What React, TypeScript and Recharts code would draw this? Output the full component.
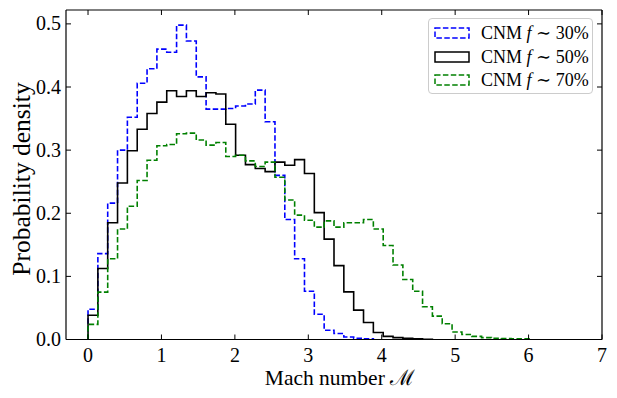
import React from "react";
import { LineChart, Line, XAxis, YAxis, Legend } from "recharts";

// histogram bin width (Mach number units), bins start at 0
const binWidth = 0.134;

const xTicks = [0, 1, 2, 3, 4, 5, 6, 7];
const yTicks = [0, 0.1, 0.2, 0.3, 0.4, 0.5];

const cnm30 = [
  0.048, 0.136, 0.216, 0.3, 0.352, 0.406, 0.429, 0.46, 0.455, 0.498, 0.473,
  0.416, 0.365, 0.365, 0.366, 0.37, 0.373, 0.395, 0.345, 0.26, 0.19, 0.128,
  0.0765, 0.04, 0.0147, 0.0095, 0.004, 0.002, 0.001,
];

const cnm50 = [
  0.0385, 0.1125, 0.185, 0.248, 0.299, 0.333, 0.358, 0.376, 0.394, 0.385,
  0.394, 0.385, 0.391, 0.389, 0.341, 0.292, 0.277, 0.271, 0.266, 0.281, 0.276,
  0.285, 0.263, 0.201, 0.159, 0.117, 0.0755, 0.0465, 0.027, 0.011, 0.005,
  0.003, 0.002, 0.001, 0.0005,
];

const cnm70 = [
  0.024, 0.075, 0.128, 0.175, 0.211, 0.252, 0.284, 0.307, 0.309, 0.326, 0.327,
  0.316, 0.308, 0.312, 0.29, 0.292, 0.283, 0.274, 0.281, 0.257, 0.221, 0.197,
  0.189, 0.178, 0.188, 0.178, 0.185, 0.185, 0.19, 0.175, 0.149, 0.118, 0.095,
  0.0765, 0.052, 0.037, 0.025, 0.012, 0.008, 0.005, 0.003, 0.002, 0.0015,
  0.001, 0.001,
];

const series = [
  { name: "30", values: cnm30, color: "#0000ff", dash: "5.5 2.4" },
  { name: "50", values: cnm50, color: "#000000", dash: undefined },
  { name: "70", values: cnm70, color: "#008000", dash: "5.5 2.4" },
];

// matplotlib-style step outline: up from 0 at first edge, down to 0 at last edge
function toSteps(values: number[]) {
  const pts = [{ x: 0, y: 0 }];
  values.forEach((v, i) => pts.push({ x: +(i * binWidth).toFixed(4), y: v }));
  pts.push({ x: +(values.length * binWidth).toFixed(4), y: 0 });
  return pts;
}

const FONT = "'Liberation Serif', 'DejaVu Serif', serif";
const TICK = 5;

const BottomTick = (p: any) => (
  <g>
    <line x1={p.x} x2={p.x} y1={p.y} y2={p.y - TICK} stroke="#000" />
    <text x={p.x} y={p.y + 22} textAnchor="middle" fontSize={20} fontFamily={FONT} fill="#000">
      {p.payload.value}
    </text>
  </g>
);

const TopTick = (p: any) => (
  <line x1={p.x} x2={p.x} y1={p.y} y2={p.y + TICK} stroke="#000" />
);

const LeftTick = (p: any) => (
  <g>
    <line x1={p.x} x2={p.x + TICK} y1={p.y} y2={p.y} stroke="#000" />
    <text x={p.x - 5} y={p.y + 6.5} textAnchor="end" fontSize={20} fontFamily={FONT} fill="#000">
      {Number(p.payload.value).toFixed(1)}
    </text>
  </g>
);

const RightTick = (p: any) => (
  <line x1={p.x} x2={p.x - TICK} y1={p.y} y2={p.y} stroke="#000" />
);

const LegendBox = () => (
  <div
    style={{
      width: 165,
      height: 76,
      border: "1px solid #cccccc",
      borderRadius: 4,
      background: "rgba(255,255,255,0.8)",
      fontFamily: FONT,
      fontSize: 18,
      color: "#000",
      boxSizing: "border-box",
      paddingTop: 2,
    }}
  >
    {series.map((s) => (
      <div key={s.name} style={{ display: "flex", alignItems: "center", height: 23.8 }}>
        <svg width={48} height={14} style={{ marginLeft: 4 }}>
          <rect
            x={2}
            y={2}
            width={34}
            height={10}
            fill="none"
            stroke={s.color}
            strokeWidth={1.5}
            strokeDasharray={s.dash}
          />
        </svg>
        <span style={{ whiteSpace: "nowrap" }}>
          CNM <i>f</i> ∼ {s.name}%
        </span>
      </div>
    ))}
  </div>
);

export default function App() {
  return (
    <div style={{ position: "absolute", left: 0, top: 0, width: 617, height: 398, background: "#fff" }}>
      <LineChart width={617} height={398} margin={{ top: 9, right: 14, left: 0, bottom: 0 }}>
        <XAxis
          xAxisId="b"
          dataKey="x"
          type="number"
          domain={[-0.3, 7]}
          ticks={xTicks}
          interval={0}
          allowDataOverflow
          height={58.5}
          tickSize={0}
          tickMargin={0}
          tickLine={false}
          tick={<BottomTick />}
          axisLine={{ stroke: "#000", strokeWidth: 1.2 }}
          label={{
            content: () => (
              <text x={340} y={385} textAnchor="middle" fontSize={21.5} fontFamily={FONT} fill="#000">
                Mach number ℳ
              </text>
            ),
          }}
        />
        <XAxis
          xAxisId="t"
          orientation="top"
          dataKey="x"
          type="number"
          domain={[-0.3, 7]}
          ticks={xTicks}
          interval={0}
          allowDataOverflow
          height={1}
          tickSize={0}
          tickMargin={0}
          tickLine={false}
          tick={<TopTick />}
          axisLine={{ stroke: "#000", strokeWidth: 1.2 }}
        />
        <YAxis
          yAxisId="l"
          type="number"
          domain={[0, 0.522]}
          ticks={yTicks}
          interval={0}
          allowDataOverflow
          width={66}
          tickSize={0}
          tickMargin={0}
          tickLine={false}
          tick={<LeftTick />}
          axisLine={{ stroke: "#000", strokeWidth: 1.2 }}
          label={{
            content: () => (
              <text
                transform="translate(30,179) rotate(-90)"
                textAnchor="middle"
                fontSize={25.5}
                fontFamily={FONT}
                fill="#000"
              >
                Probability density
              </text>
            ),
          }}
        />
        <YAxis
          yAxisId="r"
          orientation="right"
          type="number"
          domain={[0, 0.522]}
          ticks={yTicks}
          interval={0}
          allowDataOverflow
          width={1}
          tickSize={0}
          tickMargin={0}
          tickLine={false}
          tick={<RightTick />}
          axisLine={{ stroke: "#000", strokeWidth: 1.2 }}
        />
        {series.map((s) => (
          <Line
            key={s.name}
            xAxisId="b"
            yAxisId="l"
            data={toSteps(s.values)}
            dataKey="y"
            type="stepAfter"
            stroke={s.color}
            strokeWidth={1.6}
            strokeDasharray={s.dash}
            dot={false}
            activeDot={false}
            isAnimationActive={false}
          />
        ))}
        <Legend
          layout="vertical"
          verticalAlign="middle"
          align="center"
          content={<LegendBox />}
          wrapperStyle={{ position: "absolute", left: 428, top: 18, width: 166 }}
        />
      </LineChart>
    </div>
  );
}
